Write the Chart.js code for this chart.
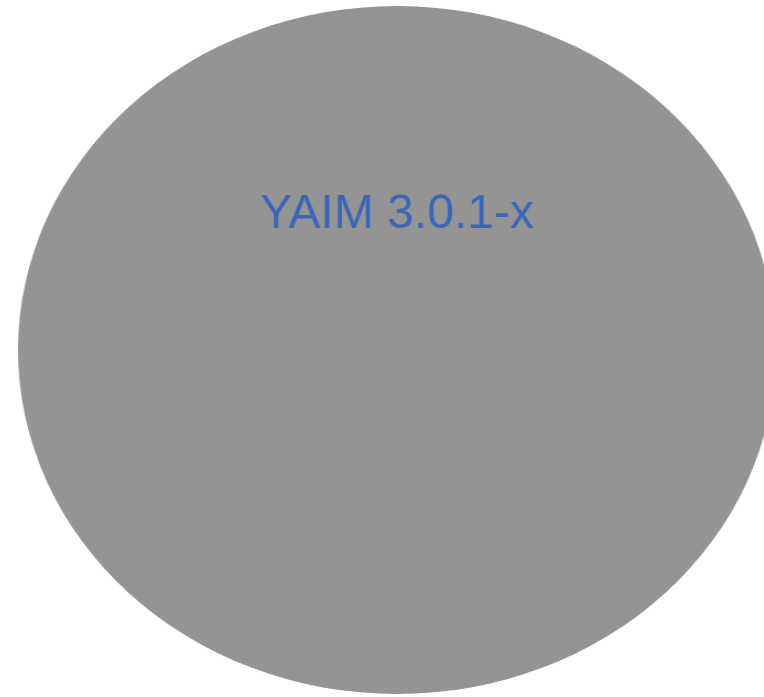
<!DOCTYPE html>
<html>
<head>
<meta charset="utf-8">
<script src="https://cdn.jsdelivr.net/npm/chart.js@4"></script>
<style>
html,body{margin:0;padding:0;background:#fff;width:764px;height:697px;overflow:hidden;}
#wrap{position:absolute;left:53px;top:6px;width:688px;height:688px;transform:scaleX(1.1017);transform-origin:344px 344px;}
</style>
</head>
<body>
<div id="wrap"><canvas id="c" width="688" height="688"></canvas></div>
<script>
const categories = ['YAIM 3.0.1-x'];
const values = [100];
const sliceColors = ['#949494'];
const labelColor = '#3a66b8';
const SX = 1.1017;

const labelPlugin = {
  id: 'sliceLabel',
  afterDatasetsDraw(chart) {
    const ctx = chart.ctx;
    const arc = chart.getDatasetMeta(0).data[0];
    ctx.save();
    ctx.translate(arc.x, 209);
    ctx.scale(1 / SX, 1);
    ctx.font = '48px "Liberation Sans", Arial, sans-serif';
    ctx.fillStyle = labelColor;
    ctx.textAlign = 'center';
    ctx.textBaseline = 'middle';
    ctx.fillText(chart.data.labels[0], 0, 0);
    ctx.restore();
  }
};

new Chart(document.getElementById('c'), {
  type: 'pie',
  data: {
    labels: categories,
    datasets: [{ data: values, backgroundColor: sliceColors, borderWidth: 0 }]
  },
  options: {
    responsive: false,
    animation: false,
    layout: { padding: 0 },
    plugins: { legend: { display: false }, tooltip: { enabled: false } }
  },
  plugins: [labelPlugin]
});
</script>
</body>
</html>
